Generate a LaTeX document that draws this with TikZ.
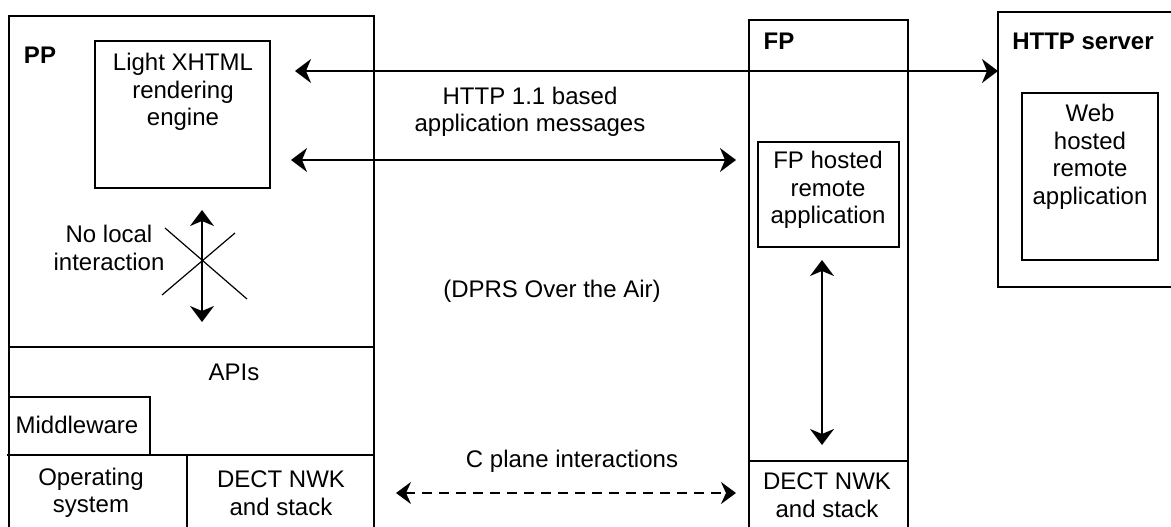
\documentclass[tikz,border=0pt]{standalone}
\usepackage{fontspec}
\setmainfont{Liberation Sans}
\usetikzlibrary{arrows.meta}
\begin{document}
\begin{tikzpicture}[x=1pt,y=-1pt,
  every node/.style={inner sep=0pt, outer sep=0pt},
  txt/.style={align=center, font=\fontsize{24}{27.5}\selectfont},
  lbl/.style={font=\fontsize{24}{27.5}\selectfont\bfseries},
  box/.style={draw, line width=1.5pt, anchor=north west},
  thin/.style={line width=1.5pt},
  link/.style={line width=2.2pt, {Stealth[length=16pt,width=24pt,inset=5pt]}-{Stealth[length=16pt,width=24pt,inset=5pt]}},
  clink/.style={line width=2pt, dash pattern=on 10pt off 7pt, {Stealth[length=15pt,width=22pt,inset=5pt]}-{Stealth[length=15pt,width=22pt,inset=5pt]}}
]
\useasboundingbox (0,0) rectangle (1171,527);
\fill[white] (0,0) rectangle (1171,527);

% PP container
\node[box, minimum width=365pt, minimum height=540pt] (pp) at (9,16) {};
\node[lbl] (pplbl) at (40,55) {PP};
\node[box, minimum width=175pt, minimum height=147pt] (xhtml) at (95,41) {};
\node[txt] (xhtmltxt) at (183,92) {Light XHTML\\rendering\\engine};
\node[txt] (nolocal) at (109,248) {No local\\interaction};
\coordinate (vt) at (202,210);
\coordinate (vb) at (202,322);
\draw[link] (vt) -- (vb);
\coordinate (x1a) at (165,228); \coordinate (x1b) at (247,299);
\coordinate (x2a) at (235,233); \coordinate (x2b) at (162,295);
\draw[line width=1.2pt] (x1a) -- (x1b);
\draw[line width=1.2pt] (x2a) -- (x2b);

% PP lower layers
\coordinate (apiL) at (9,347); \coordinate (apiR) at (374,347);
\draw[thin] (apiL) -- (apiR);
\node[txt] (apis) at (234,372) {APIs};
\node[box, minimum width=141pt, minimum height=58pt] (mw) at (9,397) {};
\node[txt] (mwtxt) at (77,425) {Middleware};
\coordinate (osL) at (7,455); \coordinate (osR) at (374,455);
\draw[thin] (osL) -- (osR);
\coordinate (divT) at (187,455); \coordinate (divB) at (187,530);
\draw[thin] (divT) -- (divB);
\node[txt] (os) at (91,493) {Operating\\system};
\node[txt] (ppdect) at (281,493) {DECT NWK\\and stack};

% FP container
\node[box, minimum width=159pt, minimum height=540pt] (fp) at (749,20) {};
\node[lbl] (fplbl) at (779,41) {FP};
\node[box, minimum width=141pt, minimum height=105pt] (fpapp) at (758,142) {};
\node[txt] (fpapptxt) at (828,190) {FP hosted\\remote\\application};
\coordinate (fpdL) at (749,461); \coordinate (fpdR) at (908,461);
\draw[thin] (fpdL) -- (fpdR);
\node[txt] (fpdect) at (827,495) {DECT NWK\\and stack};
\coordinate (fvt) at (822,260);
\coordinate (fvb) at (822,445);
\draw[link] (fvt) -- (fvb);

% HTTP server
\node[box, minimum width=250pt, minimum height=275pt] (http) at (998,12) {};
\node[lbl] (httplbl) at (1083,41) {HTTP server};
\node[box, minimum width=136pt, minimum height=167pt] (web) at (1022,93) {};
\node[txt] (webtxt) at (1090,157) {Web\\hosted\\remote\\application};

% connectors
\coordinate (a1L) at (295,71);
\draw[link] (a1L) -- (a1L -| http.west);
\coordinate (a2L) at (291,160);
\coordinate (a2R) at (736,160);
\draw[link] (a2L) -- (a2R);
\node[txt] (httpmsg) at (530,112) {HTTP 1.1 based\\application messages};
\node[txt] (dprs) at (552,291) {(DPRS Over the Air)};
\coordinate (cL) at (396,493);
\coordinate (cR) at (736,493);
\draw[clink] (cL) -- (cR);
\node[txt] (cplane) at (572,461) {C plane interactions};
\end{tikzpicture}
\end{document}
